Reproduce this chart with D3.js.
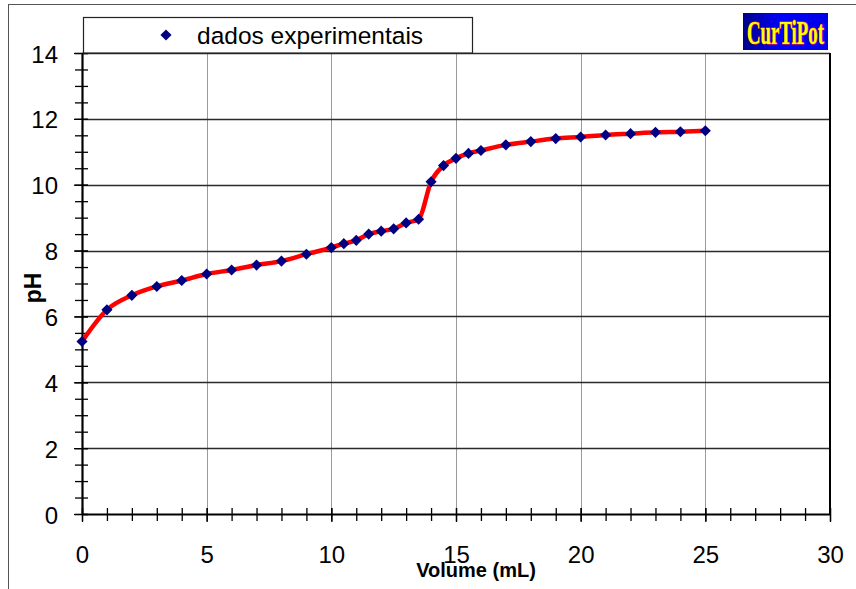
<!DOCTYPE html>
<html>
<head>
<meta charset="utf-8">
<script src="https://cdn.jsdelivr.net/npm/d3@7/dist/d3.min.js"></script>
<style>
  html, body { margin: 0; padding: 0; background: #fff; }
  svg { display: block; font-family: "Liberation Sans", Arial, sans-serif; }
</style>
</head>
<body>
<svg id="chart" width="856" height="589"></svg>
<script>
// Titration data: added volume (mL) and measured pH
const volume = [0, 1, 2, 3, 4, 5, 6, 7, 8, 9, 10, 10.5, 11, 11.5, 12, 12.5, 13, 13.5,
                14, 14.5, 15, 15.5, 16, 17, 18, 19, 20, 21, 22, 23, 24, 25];
const ph = [5.24, 6.20, 6.64, 6.91, 7.09, 7.29, 7.41, 7.56, 7.68, 7.89, 8.09, 8.21, 8.31, 8.50, 8.59, 8.66, 8.84, 8.95,
            10.09, 10.58, 10.80, 10.95, 11.04, 11.21, 11.31, 11.40, 11.45, 11.51, 11.55, 11.59, 11.61, 11.64];

const xTicks = [0, 5, 10, 15, 20, 25, 30];
const yTicks = [0, 2, 4, 6, 8, 10, 12, 14];
const xMinorTicks = d3.range(0, 31, 1);
const yMinorTicks = d3.range(0, 14.01, 0.5);

const legendLabel = "dados experimentais";
const xTitle = "Volume (mL)";
const yTitle = "pH";
const logoText = "CurTiPot";

const points = volume.map((v, i) => ({ v, p: ph[i] }));

const svg = d3.select("#chart");
const plotLeft = 82, plotRight = 830, plotTop = 53, plotBottom = 514;
const x = d3.scaleLinear().domain([0, 30]).range([plotLeft, plotRight]);
const y = d3.scaleLinear().domain([0, 14]).range([plotBottom, plotTop]);

// Outer chart frame
svg.append("rect")
  .attr("x", 8.5).attr("y", 4.5).attr("width", 900).attr("height", 700)
  .attr("fill", "#fff").attr("stroke", "#555").attr("stroke-width", 1);

// Vertical gridlines
svg.append("g").selectAll("line")
  .data(xTicks.filter(t => t > 0 && t < 30))
  .join("line")
  .attr("x1", d => Math.round(x(d)) + 0.5).attr("x2", d => Math.round(x(d)) + 0.5)
  .attr("y1", plotTop).attr("y2", plotBottom)
  .attr("stroke", "#9a9a9a").attr("stroke-width", 1);

// Horizontal gridlines (including the top edge at 14)
svg.append("g").selectAll("line")
  .data(yTicks.filter(t => t > 0))
  .join("line")
  .attr("x1", plotLeft).attr("x2", plotRight)
  .attr("y1", d => Math.round(y(d)) + 0.5).attr("y2", d => Math.round(y(d)) + 0.5)
  .attr("stroke", "#2a2a2a").attr("stroke-width", 1.3);

// Right edge of plot area
svg.append("line")
  .attr("x1", plotRight).attr("x2", plotRight).attr("y1", plotTop).attr("y2", plotBottom)
  .attr("stroke", "#000").attr("stroke-width", 2);

function styleAxis(g) {
  g.select(".domain").attr("stroke", "#000").attr("stroke-width", 2.2);
  g.selectAll(".tick line").attr("stroke", "#000").attr("stroke-width", 1.3);
  g.selectAll(".tick text")
    .attr("fill", "#000")
    .style("font-size", "24px")
    .style("font-family", '"Liberation Sans", Arial, sans-serif');
}

// Minor ticks (cross the axis line)
const xMinor = svg.append("g").attr("transform", `translate(0,${plotBottom})`)
  .call(d3.axisBottom(x).tickValues(xMinorTicks).tickFormat("").tickSizeOuter(0));
xMinor.select(".domain").remove();
xMinor.selectAll(".tick line").attr("y1", -6).attr("y2", 7).attr("stroke", "#000").attr("stroke-width", 1.3);

const yMinor = svg.append("g").attr("transform", `translate(${plotLeft},0)`)
  .call(d3.axisLeft(y).tickValues(yMinorTicks).tickFormat("").tickSizeOuter(0));
yMinor.select(".domain").remove();
yMinor.selectAll(".tick line").attr("x1", -7).attr("x2", 6).attr("stroke", "#000").attr("stroke-width", 1.3);

// Major ticks with labels
const xAxis = svg.append("g").attr("transform", `translate(0,${plotBottom})`)
  .call(d3.axisBottom(x).tickValues(xTicks).tickFormat(d3.format("d")).tickSizeOuter(0).tickPadding(26));
styleAxis(xAxis);
xAxis.selectAll(".tick line").attr("y1", -6).attr("y2", 8);

const yAxis = svg.append("g").attr("transform", `translate(${plotLeft},0)`)
  .call(d3.axisLeft(y).tickValues(yTicks).tickFormat(d3.format("d")).tickSizeOuter(0).tickPadding(18));
styleAxis(yAxis);
yAxis.selectAll(".tick line").attr("x1", -8).attr("x2", 6);
yAxis.selectAll(".tick text").attr("dy", "0.38em");

// Smoothed curve through the points
const line = d3.line()
  .x(d => x(d.v)).y(d => y(d.p))
  .curve(d3.curveMonotoneX);
svg.append("path")
  .datum(points)
  .attr("d", line)
  .attr("fill", "none")
  .attr("stroke", "#ff0000")
  .attr("stroke-width", 4.5)
  .attr("stroke-linejoin", "round");

// Experimental points (diamonds)
const diamond = d3.symbol().type(d3.symbolSquare).size(62);
svg.append("g").selectAll("path")
  .data(points)
  .join("path")
  .attr("d", diamond)
  .attr("transform", d => `translate(${x(d.v)},${y(d.p)}) rotate(45)`)
  .attr("fill", "#000080");

// Legend
const legend = svg.append("g");
legend.append("rect")
  .attr("x", 83.5).attr("y", 17.5).attr("width", 389).attr("height", 35.5)
  .attr("fill", "#fff").attr("stroke", "#222").attr("stroke-width", 1.2);
legend.append("path")
  .attr("d", diamond)
  .attr("transform", "translate(166,35) rotate(45)")
  .attr("fill", "#000080");
legend.append("text")
  .attr("x", 197).attr("y", 44)
  .style("font-size", "24.5px")
  .attr("fill", "#000")
  .text(legendLabel);

// Axis titles
svg.append("text")
  .attr("x", 476).attr("y", 577)
  .attr("text-anchor", "middle")
  .style("font-size", "20px").style("font-weight", "bold")
  .text(xTitle);

svg.append("text")
  .attr("transform", "translate(41,288) rotate(-90)")
  .attr("text-anchor", "middle")
  .style("font-size", "23px").style("font-weight", "bold")
  .text(yTitle);

// Logo badge
const defs = svg.append("defs");
const grad = defs.append("linearGradient").attr("id", "logoGrad")
  .attr("x1", "0%").attr("x2", "100%").attr("y1", "0%").attr("y2", "0%");
grad.append("stop").attr("offset", "0%").attr("stop-color", "#000088");
grad.append("stop").attr("offset", "45%").attr("stop-color", "#0000ff");
grad.append("stop").attr("offset", "100%").attr("stop-color", "#0000e6");
svg.append("rect")
  .attr("x", 743).attr("y", 13).attr("width", 85).attr("height", 37)
  .attr("fill", "url(#logoGrad)");
svg.append("text")
  .attr("x", 747).attr("y", 44)
  .attr("textLength", 77).attr("lengthAdjust", "spacingAndGlyphs")
  .style("font-family", '"Liberation Serif", "DejaVu Serif", serif')
  .style("font-size", "34px").style("font-weight", "bold")
  .attr("fill", "#ffff00")
  .attr("stroke", "#ff3300").attr("stroke-width", 1.2)
  .attr("paint-order", "stroke")
  .text(logoText);
</script>
</body>
</html>
